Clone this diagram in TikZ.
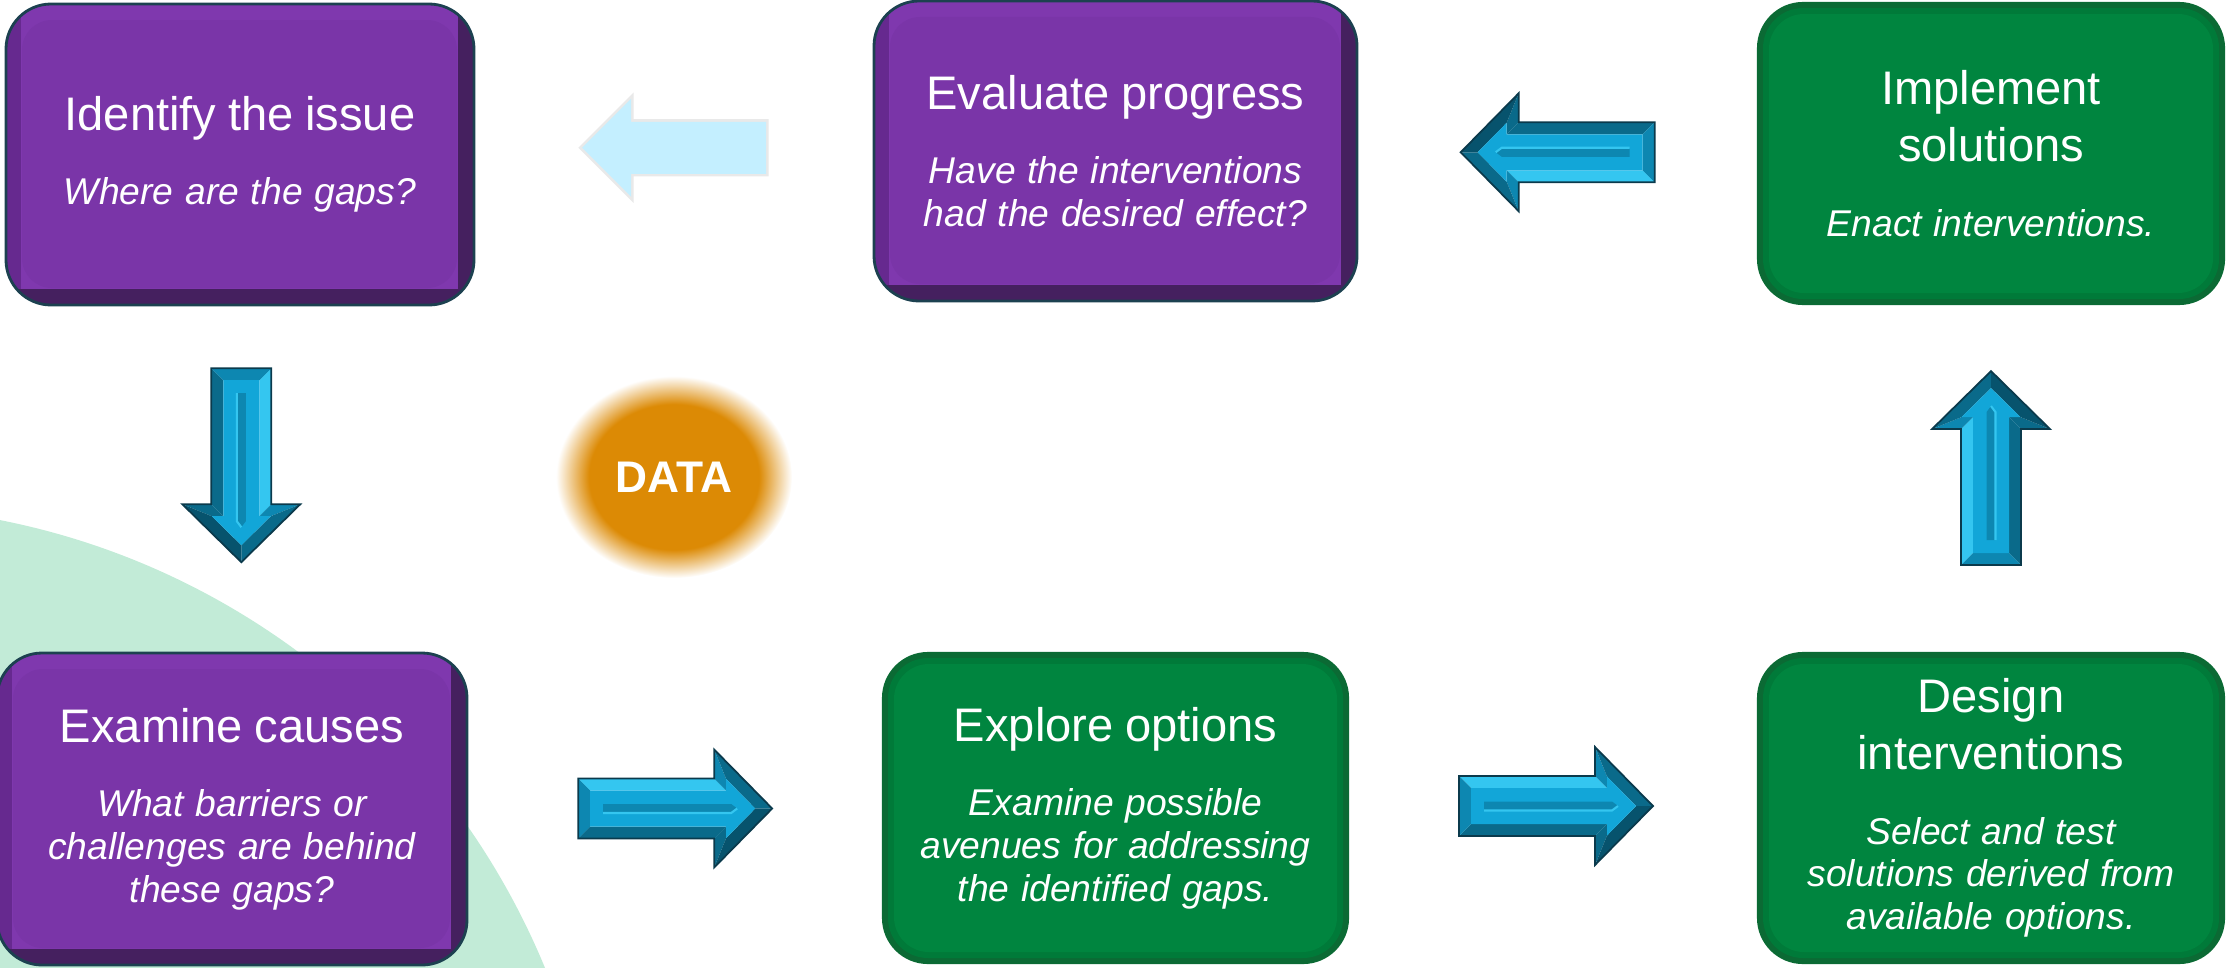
\documentclass[tikz,border=0pt]{standalone}
\usepackage{fontspec}
\setmainfont{Liberation Sans}
\usepackage{tikz}
\usetikzlibrary{calc,positioning,shapes.geometric}

\definecolor{purpface}{HTML}{7A35A8}
\definecolor{purpdark}{HTML}{45205F}
\definecolor{purpleft}{HTML}{66298F}
\definecolor{purptop}{HTML}{7F38AE}
\definecolor{purpline}{HTML}{1C4150}
\definecolor{grnface}{HTML}{00853F}
\definecolor{grnmid}{HTML}{007A39}
\definecolor{grndark}{HTML}{0B6A34}
\definecolor{arrface}{HTML}{12A6D8}
\definecolor{arrlight}{HTML}{34C6F0}
\definecolor{arrmid}{HTML}{0D87B1}
\definecolor{arrdark}{HTML}{0A6A8A}
\definecolor{arrdeep}{HTML}{07536D}
\definecolor{arrline}{HTML}{0B3A4C}
\definecolor{palearr}{HTML}{C4EFFF}
\definecolor{dataor}{HTML}{DC8A05}
\definecolor{mint}{HTML}{C2EBD7}

\pgfdeclareradialshading{datablur}{\pgfpoint{0bp}{0bp}}{color(0bp)=(dataor); color(18bp)=(dataor); color(25bp)=(white); color(50bp)=(white)}

\newcommand{\stagetext}[2]{{\fontsize{13.4}{16.2}\selectfont #1\par}\vspace{9pt}{\fontsize{10.6}{12.2}\selectfont\itshape #2\par}}

\begin{document}
\begin{tikzpicture}[
	stage/.style={rectangle, rounded corners=0.45cm, minimum width=4.68cm,
		minimum height=3.01cm, text width=4.4cm, align=center, text=white, inner sep=0pt},
	purpbox/.style={stage, draw=purpline, line width=0.8pt, fill=purpdark,
		path picture={
			\fill[purpleft, sharp corners] ([yshift=0.16cm]path picture bounding box.south west) rectangle ([xshift=-0.16cm]path picture bounding box.north east);
			\fill[purptop, sharp corners] ([shift={(0.15cm,0.16cm)}]path picture bounding box.south west) rectangle ([xshift=-0.16cm]path picture bounding box.north east);
			\fill[purpface, rounded corners=0.3cm] ([shift={(0.16cm,0.17cm)}]path picture bounding box.south west) rectangle ([shift={(-0.17cm,-0.16cm)}]path picture bounding box.north east);}},
	grnbox/.style={stage, draw=grndark, line width=0.6pt, fill=grndark,
		path picture={
			\fill[grnmid, rounded corners=0.4cm] ([shift={(0.05cm,0.05cm)}]path picture bounding box.south west) rectangle ([shift={(-0.05cm,-0.05cm)}]path picture bounding box.north east);
			\fill[grnface, rounded corners=0.35cm] ([shift={(0.11cm,0.11cm)}]path picture bounding box.south west) rectangle ([shift={(-0.11cm,-0.11cm)}]path picture bounding box.north east);}},
	datablob/.style={ellipse, shading=datablur, minimum width=2.36cm, minimum height=2.02cm,
		inner sep=0pt, text=white, font=\fontsize{12.6}{15}\selectfont\bfseries},
	bevel/.pic={
		\fill[arrlight] (-0.97,0.30) -- (0.39,0.30) -- (0.51,0.18) -- (-0.85,0.18) -- cycle;
		\fill[arrdark] (-0.97,-0.30) -- (0.39,-0.30) -- (0.51,-0.18) -- (-0.85,-0.18) -- cycle;
		\fill[arrmid] (-0.97,0.30) -- (-0.85,0.18) -- (-0.85,-0.18) -- (-0.97,-0.30) -- cycle;
		\fill[arrmid] (0.39,0.30) -- (0.39,0.59) -- (0.51,0.295) -- (0.51,0.18) -- cycle;
		\fill[arrdark] (0.39,-0.30) -- (0.39,-0.59) -- (0.51,-0.295) -- (0.51,-0.18) -- cycle;
		\fill[arrdark] (0.39,0.59) -- (0.97,0) -- (0.80,0) -- (0.51,0.295) -- cycle;
		\fill[arrdeep] (0.39,-0.59) -- (0.97,0) -- (0.80,0) -- (0.51,-0.295) -- cycle;
		\fill[arrface] (-0.85,0.18) -- (0.51,0.18) -- (0.51,0.295) -- (0.80,0) -- (0.51,-0.295) -- (0.51,-0.18) -- (-0.85,-0.18) -- cycle;
		\fill[arrmid] (-0.72,0.045) -- (0.56,0.045) -- (0.62,0) -- (0.56,-0.045) -- (-0.72,-0.045) -- cycle;
		\draw[arrlight, line width=0.6pt] (-0.72,-0.045) -- (0.56,-0.045) -- (0.62,0);
		\draw[arrline, line width=0.5pt] (-0.97,-0.30) -- (0.39,-0.30) -- (0.39,-0.59) -- (0.97,0) -- (0.39,0.59) -- (0.39,0.30) -- (-0.97,0.30) -- cycle;},
	pale/.pic={
		\draw[gray!50, line width=1.5pt, opacity=0.35] (-0.92,-0.26) -- (0.43,-0.26) -- (0.43,-0.49) -- (0.92,0) -- (0.43,0.49) -- (0.43,0.26) -- (-0.92,0.26) -- cycle;
		\fill[palearr] (-0.92,-0.26) -- (0.43,-0.26) -- (0.43,-0.49) -- (0.92,0) -- (0.43,0.49) -- (0.43,0.26) -- (-0.92,0.26) -- cycle;}]

	\useasboundingbox (0,0) rectangle (22.26,-9.67);
	\begin{scope}
		\clip (0,0) rectangle (22.26,-9.67);
		\fill[mint] (-1.45,-12.52) circle (7.46);
	\end{scope}

	\node[purpbox] (identify) at (2.40,-1.545) {\stagetext{Identify the issue}{Where are the gaps?}};
	\node[purpbox, minimum width=4.83cm, minimum height=3.00cm] (evaluate) at (11.155,-1.51) {\stagetext{Evaluate progress}{Have the interventions\\had the desired effect?}};
	\node[grnbox, minimum width=4.66cm] (implement) at (19.91,-1.535) {\stagetext{Implement\\solutions}{Enact interventions.}};
	\node[purpbox, minimum width=4.70cm, minimum height=3.12cm] (examine) at (2.32,-8.09) {\stagetext{Examine causes}{What barriers or\\challenges are behind\\these gaps?}};
	\node[grnbox, minimum width=4.65cm, minimum height=3.10cm] (explore) at (11.155,-8.08) {\stagetext{Explore options}{Examine possible\\avenues for addressing\\the identified gaps.}};
	\node[grnbox, minimum width=4.66cm, minimum height=3.10cm] (design) at (19.91,-8.08) {\stagetext{Design\\interventions}{Select and test\\solutions derived from\\available options.}};

	\pic[rotate=180] at ($(evaluate.west)!0.5!(identify.east)+(0,0.05)$) {pale};
	\pic[rotate=-90] at ($(identify.south)!0.46!(examine.north)+(0.05,0)$) {bevel};
	\pic at ($(examine.east)!0.5!(explore.west)$) {bevel};
	\pic at ($(explore.east)!0.5!(design.west)+(0.03,0.02)$) {bevel};
	\pic[rotate=90] at ($(design.north)!0.53!(implement.south)$) {bevel};
	\pic[rotate=180] at ($(implement.west)!0.5!(evaluate.east)$) {bevel};

	\node[datablob] (data) at (6.74,-4.77) {DATA};
\end{tikzpicture}
\end{document}
